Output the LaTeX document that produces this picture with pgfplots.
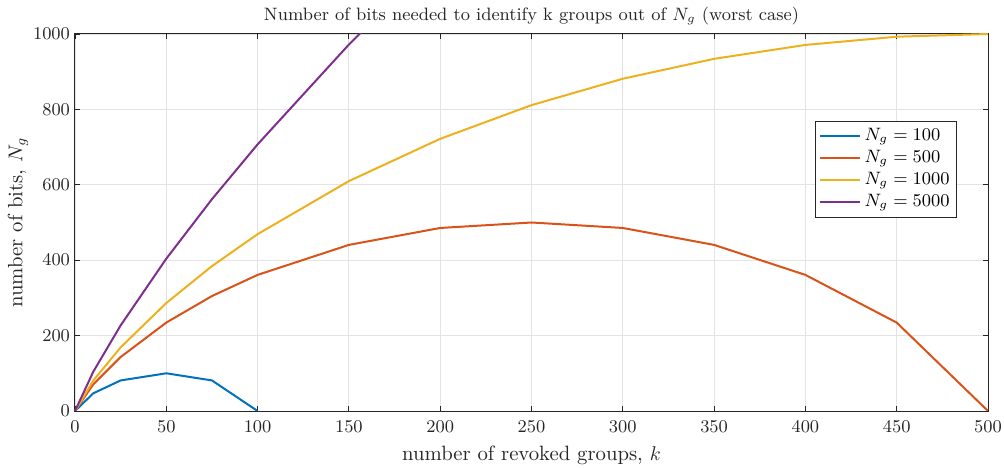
\documentclass[border=0pt]{standalone}
\usepackage{pgfplots}
\pgfplotsset{compat=1.18}

\definecolor{mblue}{rgb}{0,0.4470,0.7410}
\definecolor{morange}{rgb}{0.8500,0.3250,0.0980}
\definecolor{myellow}{rgb}{0.9290,0.6940,0.1250}
\definecolor{mpurple}{rgb}{0.4940,0.1840,0.5560}
\definecolor{axgray}{rgb}{0.15,0.15,0.15}

\begin{document}
\begin{tikzpicture}
\path[use as bounding box] (-37.5bp,-28.5bp) rectangle (464.5bp,205.5bp);
\begin{axis}[
  at={(0,0)}, anchor=south west,
  scale only axis,
  width=456.5bp, height=188.5bp,
  xmin=0, xmax=500, ymin=0, ymax=1000,
  xtick={0,50,...,500}, ytick={0,200,...,1000},
  tick align=inside,
  xtick pos=both, ytick pos=both,
  major tick length=2.3bp,
  every tick/.style={axgray, line width=0.4pt},
  axis line style={axgray, line width=0.5pt},
  grid=major,
  grid style={gray!22, line width=0.4pt},
  ticklabel style={font=\fontsize{9}{11}\selectfont, text=axgray},
  scaled ticks=false,
  /pgf/number format/1000 sep={},
  xticklabel style={yshift=-1.5pt},
  yticklabel style={xshift=1pt},
  xlabel={number of revoked groups, $k$},
  ylabel={number of bits, $N_g$},
  label style={font=\fontsize{10.4}{12}\selectfont, text=axgray},
  x label style={at={(axis description cs:0.5,-0.1167)}, anchor=center},
  y label style={at={(axis description cs:-0.0624,0.5)}, anchor=center, rotate=0},
  title={Number of bits needed to identify k groups out of $N_g$ (worst case)},
  every axis title shift=0pt,
  title style={font=\fontsize{9}{11}\selectfont, text=axgray,
    at={(axis description cs:0.5,1.0477)}, anchor=center},
  legend style={at={(rel axis cs:0.966,0.770)}, anchor=north east,
    font=\fontsize{9}{11}\selectfont, draw=axgray, line width=0.4pt,
    inner sep=1.5pt, row sep=-0.5pt},
  legend cell align=left,
  legend image code/.code={\draw[#1, line width=1bp] (0cm,0cm) -- (20bp,0cm);},
  every axis plot/.append style={line width=1bp},
  clip=true,
]
% N_g = 100
\addplot[mblue] coordinates {
  (0,0) (10,46.9) (25,81.1) (50,100) (75,81.1) (100,0)};
\addlegendentry{$N_g = 100$}
% N_g = 500
\addplot[morange] coordinates {
  (0,0) (10,70.7) (25,143.2) (50,234.5) (75,304.9) (100,361.0)
  (150,440.6) (200,485.5) (250,500) (300,485.5) (350,440.6)
  (400,361.0) (450,234.5) (500,0)};
\addlegendentry{$N_g = 500$}
% N_g = 1000
\addplot[myellow] coordinates {
  (0,0) (10,80.8) (25,168.7) (50,286.4) (75,384.3) (100,469.0)
  (150,609.8) (200,721.9) (250,811.3) (300,881.3) (350,934.1)
  (400,971.0) (450,992.8) (500,1000)};
\addlegendentry{$N_g = 1000$}
% N_g = 5000
\addplot[mpurple] coordinates {
  (0,0) (10,104.1) (25,227.1) (50,404.0) (75,561.8) (100,707.2)
  (150,972.0) (200,1211.5) (250,1432.0) (300,1637.2) (350,1829.6)
  (400,2010.9) (450,2182.4) (500,2345.0)};
\addlegendentry{$N_g = 5000$}
\end{axis}
\end{tikzpicture}
\end{document}
